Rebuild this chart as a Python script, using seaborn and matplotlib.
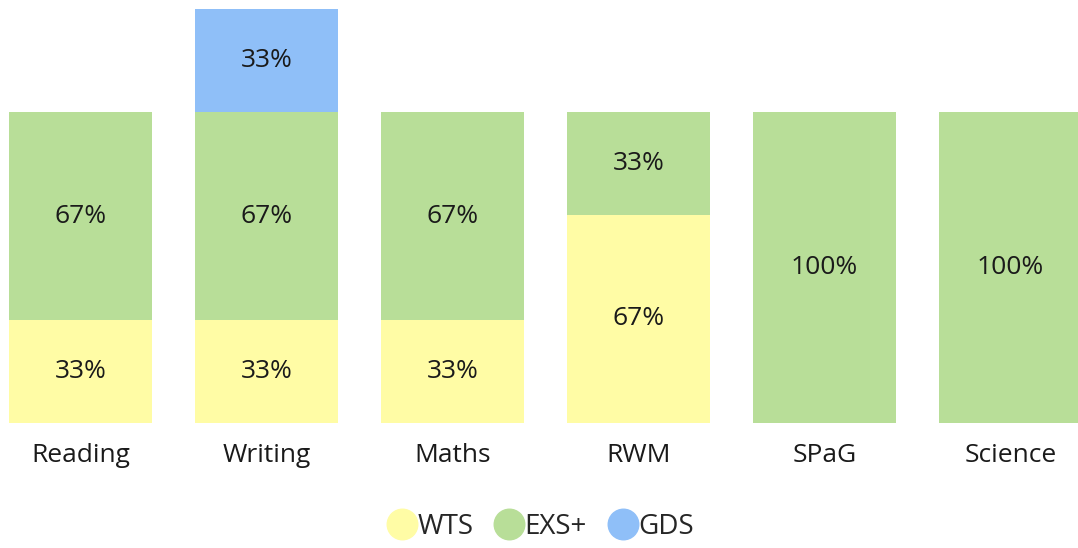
import pandas as pd
import matplotlib.pyplot as plt
import seaborn as sns

subjects = ['Reading', 'Writing', 'Maths', 'RWM', 'SPaG', 'Science']
wts = [33, 33, 33, 67, 0, 0]
exs = [67, 67, 67, 33, 100, 100]
gds = [0, 33, 0, 0, 0, 0]

series = ['WTS', 'EXS+', 'GDS']
colours = ['#FFFCA5', '#B8DE98', '#8FBFF8']

sns.set_style('white')
plt.rcParams['font.family'] = ['Open Sans', 'DejaVu Sans']

fig = plt.figure(figsize=(10.78, 5.48), dpi=100)
ax = fig.add_axes([0, 0.228, 1, 0.772])

bottom = [0] * len(subjects)
for name, vals, col in zip(series, [wts, exs, gds], colours):
    df = pd.DataFrame({'subject': subjects, 'value': vals})
    sns.barplot(data=df, x='subject', y='value', color=col, width=0.77,
                bottom=bottom, ax=ax, saturation=1, linewidth=0)
    for i, v in enumerate(vals):
        if v > 0:
            ax.text(i, bottom[i] + v / 2, f'{v}%', ha='center', va='center',
                    fontsize=19, color='#1a1a1a')
    bottom = [b + v for b, v in zip(bottom, vals)]

ax.set_xlim(-0.433, 5.363)
ax.set_ylim(0, 136)
ax.set_xlabel('')
ax.set_ylabel('')
ax.set_yticks([])
ax.tick_params(axis='x', length=0, pad=14, labelsize=19, labelcolor='#1a1a1a')
sns.despine(ax=ax, left=True, bottom=True, top=True, right=True)

handles = [plt.Line2D([], [], marker='o', linestyle='', markersize=22,
                      markerfacecolor=c, markeredgecolor=c) for c in colours]
fig.legend(handles, series, loc='center', bbox_to_anchor=(0.502, 0.038),
           ncol=3, frameon=False, fontsize=20, handletextpad=0.05,
           columnspacing=0.8, handlelength=1.0)

fig.savefig('out.png', dpi=100)
